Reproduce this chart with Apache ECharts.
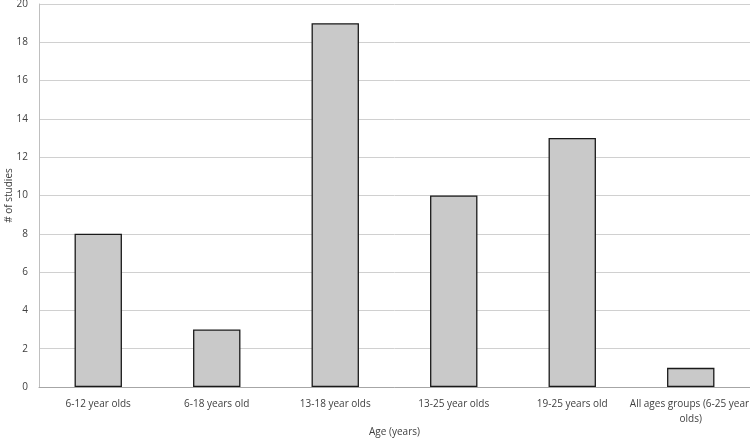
<!DOCTYPE html>
<html>
<head>
<meta charset="utf-8">
<script src="https://cdn.jsdelivr.net/npm/echarts@6/dist/echarts.min.js"></script>
<style>
  html,body{margin:0;padding:0;background:#fff;}
  #chart{width:750px;height:440px;}
</style>
</head>
<body>
<div id="chart"></div>
<script>
var categories = ['6-12 year olds','6-18 years old','13-18 year olds','13-25 year olds','19-25 years old','All ages groups (6-25 year olds)'];
var studies = [8,3,19,10,13,1];
var yTicks = {min:0,max:20,step:2};

var chart = echarts.init(document.getElementById('chart'), null, {renderer:'canvas'});
var font = '"Open Sans", "Liberation Sans", sans-serif';
var option = {
    animation:false,
    grid:{left:39,right:0,top:4,bottom:53,containLabel:false,outerBoundsMode:'none'},
    xAxis:{
        type:'category',
        data:categories,
        name:'Age (years)',
        nameLocation:'middle',
        nameGap:40,
        nameMoveOverlap:false,
        nameTextStyle:{color:'#404040',fontSize:10,fontFamily:font},
        axisLine:{lineStyle:{color:'#a6a6a6',width:1}},
        axisTick:{show:false},
        axisLabel:{color:'#404040',fontSize:10,fontFamily:font,margin:10,interval:0,width:132,overflow:'break',lineHeight:15,hideOverlap:false}
    },
    yAxis:{
        type:'value',
        min:yTicks.min,max:yTicks.max,interval:yTicks.step,
        name:'# of studies',
        nameLocation:'middle',
        nameGap:25,
        nameMoveOverlap:false,
        nameTextStyle:{color:'#404040',fontSize:10,fontFamily:font},
        axisLine:{show:true,lineStyle:{color:'#bfbfbf'}},
        axisTick:{show:false},
        axisLabel:{color:'#404040',fontSize:10,fontFamily:font,margin:11},
        splitLine:{lineStyle:{color:'#d0d0d0',width:1}}
    },
    series:[{
        type:'bar',
        data:studies,
        barWidth:'40%',
        itemStyle:{color:'#c9c9c9',borderColor:'#1a1a1a',borderWidth:1.3}
    }]
};
chart.setOption(option);
</script>
</body>
</html>
